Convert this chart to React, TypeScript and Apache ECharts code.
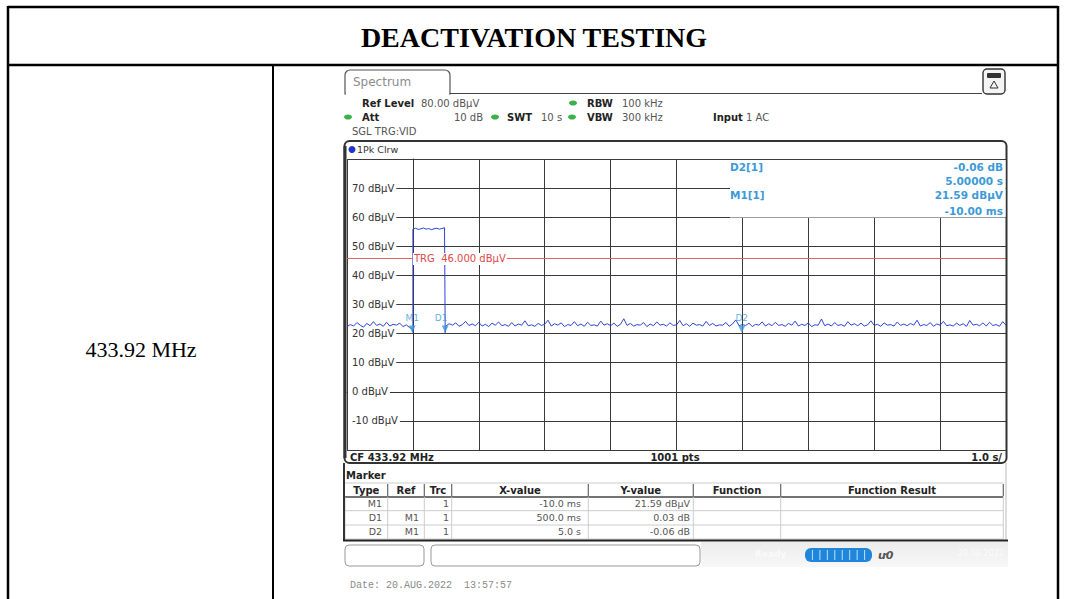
import React, { useEffect, useRef } from 'react';
import * as echarts from 'echarts';

// ---------- data ----------
const sweepStart = -1; // s
const sweepEnd = 9; // s
const sampleStep = 0.05; // s
const levelMin = -20;
const levelMax = 80;
const levelStep = 10;
const trigLevel = 46;

const noiseBefore = [22.4, 23.1, 22.6, 23.8, 22.9, 22.2, 23.5, 22.7, 24.1, 22.8, 23.3, 22.5, 23.9, 22.6, 23.2, 22.9, 23.6, 22.4, 23.0, 22.1];
const pulseTimes = [0, 0.04, 0.08, 0.12, 0.16, 0.2, 0.24, 0.28, 0.32, 0.36, 0.4, 0.44, 0.48];
const pulseLevels = [55.9, 56.2, 55.8, 56.0, 56.3, 55.9, 56.1, 55.7, 56.0, 56.2, 55.9, 56.1, 56.4];
const edgeTimes = [0, 0.49];
const edgeLows = [20.4, 20.3];
const afterStart = 0.5;
const noiseAfter = [
  22.6, 23.4, 22.9, 23.7, 22.5, 23.1, 24.2, 22.8, 23.3, 22.7, 23.9, 22.6, 23.2, 22.4, 23.6, 22.9, 24.0, 22.7, 23.1, 22.5,
  23.8, 22.6, 23.3, 22.9, 24.4, 22.7, 23.0, 22.5, 23.5, 22.8, 23.2, 24.6, 22.6, 23.4, 22.9, 23.7, 22.4, 23.1, 22.8, 24.1,
  22.7, 23.3, 22.5, 23.9, 22.8, 23.0, 22.6, 24.3, 22.9, 23.4, 22.7, 23.6, 22.5, 23.2, 25.1, 22.8, 23.5, 22.6, 23.1, 22.9,
  23.8, 22.4, 23.3, 22.7, 24.0, 22.9, 23.2, 22.6, 23.7, 22.8, 23.0, 24.5, 22.7, 23.4, 22.5, 23.6, 22.9, 23.1, 22.6, 24.2,
  22.8, 23.5, 22.6, 23.0, 22.9, 23.8, 22.5, 23.3, 24.7, 22.7, 23.1, 22.8, 23.6, 22.4, 23.2, 22.9, 24.0, 22.6, 23.4, 22.7,
  23.9, 22.8, 23.1, 22.5, 23.5, 22.9, 24.3, 22.6, 23.2, 22.8, 23.7, 22.4, 23.0, 22.9, 25.0, 22.7, 23.3, 22.6, 23.8, 22.8,
  23.1, 22.5, 24.1, 22.9, 23.4, 22.7, 23.6, 22.6, 23.0, 24.4, 22.8, 23.2, 22.5, 23.7, 22.9, 23.1, 22.6, 24.0, 22.8, 23.3,
  22.7, 23.5, 22.9, 24.6, 22.6, 23.1, 22.8, 23.8, 22.5, 23.3, 22.9, 24.2, 22.7, 23.0, 22.6, 23.6, 22.8, 23.4, 22.5, 24.5,
  22.9, 23.2, 22.7, 23.7, 22.6, 23.9, 22.8, 23.1, 22.5, 24.1, 22.9,
];

const markerNames = ['M1', 'D1', 'D2'];
const markerTimes = [-0.01, 0.49, 4.99];
const markerLevels = [21.59, 21.62, 21.53];

const tableType = ['M1', 'D1', 'D2'];
const tableRef = ['', 'M1', 'M1'];
const tableTrc = ['1', '1', '1'];
const tableX = ['-10.0 ms', '500.0 ms', '5.0 s'];
const tableY = ['21.59 dBµV', '0.03 dB', '-0.06 dB'];
const tableHead = ['Type', 'Ref', 'Trc', 'X-value', 'Y-value', 'Function', 'Function Result'];

// ---------- helpers ----------
const SANS = '"DejaVu Sans", Verdana, sans-serif';
const T = (x: number, y: number, text: string, o: any = {}) => ({
  type: 'text',
  x,
  y,
  z: o.z ?? 20,
  style: {
    text,
    fill: o.color ?? '#333',
    font: `${o.italic ? 'italic ' : ''}${o.bold ? 'bold ' : ''}${o.size ?? 10}px ${o.family ?? SANS}`,
    textAlign: o.align ?? 'left',
    textVerticalAlign: 'middle',
  },
});
const L = (x1: number, y1: number, x2: number, y2: number, color = '#333', w = 1, z = 15) => ({
  type: 'line',
  z,
  shape: { x1, y1, x2, y2 },
  style: { stroke: color, lineWidth: w },
});
const R = (x: number, y: number, w: number, h: number, style: any, r: any = 0, z = 10) => ({
  type: 'rect',
  z,
  shape: { x, y, width: w, height: h, r },
  style,
});

export default function App() {
  const ref = useRef<HTMLDivElement>(null);
  useEffect(() => {
    if (!ref.current) return;
    const chart = echarts.init(ref.current, null, { renderer: 'svg' });

    const trace: number[][] = [];
    noiseBefore.forEach((v, i) => trace.push([sweepStart + i * sampleStep, v]));
    trace.push([markerTimes[0], markerLevels[0]]);
    trace.push([edgeTimes[0], edgeLows[0]]);
    pulseLevels.forEach((v, i) => trace.push([pulseTimes[i], v]));
    trace.push([edgeTimes[1], pulseLevels[pulseLevels.length - 1]]);
    trace.push([edgeTimes[1], edgeLows[1]]);
    noiseAfter.forEach((v, i) => trace.push([afterStart + i * sampleStep, v]));

    const blue = '#3c9ad8';
    const g: any[] = [];
    // outer table
    g.push(L(8, 7, 1058, 7, '#000', 2.5, 1));
    g.push(L(8, 6, 8, 599, '#000', 2.5, 1));
    g.push(L(1058, 6, 1058, 599, '#000', 2.5, 1));
    g.push(L(8, 65, 1058, 65, '#000', 2.5, 1));
    g.push(L(273, 65, 273, 599, '#000', 2, 1));
    g.push(T(534, 37, 'DEACTIVATION TESTING', { bold: true, size: 28, color: '#000', align: 'center', family: '"Liberation Serif", "Times New Roman", serif' }));
    g.push(T(141, 349, '433.92 MHz', { size: 22, color: '#000', align: 'center', family: '"Liberation Serif", "Times New Roman", serif' }));

    // tab + header
    g.push(R(345, 70, 105, 24, { fill: '#fff', stroke: '#555', lineWidth: 1.2 }, [5, 5, 0, 0], 5));
    g.push(L(346, 94, 449, 94, '#fff', 2, 6));
    g.push(L(450, 93.5, 982, 93.5, '#444', 1.2, 6));
    g.push(R(983, 69, 22, 25, { fill: '#f4f4f4', stroke: '#333', lineWidth: 1.4 }, 4, 6));
    g.push(R(987, 73, 14, 5, { fill: '#333' }, 1, 7));
    g.push({ type: 'polygon', z: 7, shape: { points: [[994, 81], [990, 88], [998, 88]] }, style: { fill: 'none', stroke: '#333', lineWidth: 1 } });
    g.push(T(353, 82, 'Spectrum', { size: 12, color: '#8c8c8c' }));

    const green = '#3cb04a';
    const dot = (x: number, y: number) => ({ type: 'ellipse', z: 20, shape: { cx: x, cy: y, rx: 4, ry: 2.6 }, style: { fill: green } });
    g.push(T(362, 103, 'Ref Level', { bold: true, color: '#222' }));
    g.push(T(421, 103, '80.00 dBµV', { color: '#555' }));
    g.push(dot(573, 103));
    g.push(T(587, 103, 'RBW', { bold: true, color: '#222' }));
    g.push(T(622, 103, '100 kHz', { color: '#555' }));
    g.push(dot(348, 117));
    g.push(T(362, 117, 'Att', { bold: true, color: '#222' }));
    g.push(T(483, 117, '10 dB', { color: '#555', align: 'right' }));
    g.push(dot(495, 117));
    g.push(T(507, 117, 'SWT', { bold: true, color: '#222' }));
    g.push(T(541, 117, '10 s', { color: '#555' }));
    g.push(dot(572, 117));
    g.push(T(587, 117, 'VBW', { bold: true, color: '#222' }));
    g.push(T(622, 117, '300 kHz', { color: '#555' }));
    g.push(T(713, 117, 'Input', { bold: true, color: '#222' }));
    g.push(T(746, 117, '1 AC', { color: '#555' }));
    g.push(T(352, 131, 'SGL TRG:VID', { color: '#555' }));

    // trace box
    g.push(R(344.5, 141, 662, 322, { fill: 'none', stroke: '#333', lineWidth: 2 }, 5, 16));
    g.push(L(345, 146, 345, 458, '#333', 3, 16));
    g.push({ type: 'circle', z: 20, shape: { cx: 352, cy: 149.5, r: 3.5 }, style: { fill: '#2233cc' } });
    g.push(T(357, 149.5, '1Pk Clrw', { size: 9.5, color: '#333' }));
    g.push(T(350, 457, 'CF 433.92 MHz', { bold: true, color: '#222' }));
    g.push(T(675, 457, '1001 pts', { bold: true, color: '#222', align: 'center' }));
    g.push(T(1002, 457, '1.0 s/', { bold: true, color: '#222', align: 'right' }));

    // marker info box
    g.push(R(730, 160, 275.5, 57.5, { fill: '#fff' }, 0, 30));
    g.push(T(730, 167, 'D2[1]', { bold: true, size: 10.5, color: blue, z: 31 }));
    g.push(T(1003, 167, '-0.06 dB', { bold: true, size: 10.5, color: blue, align: 'right', z: 31 }));
    g.push(T(1003, 181, '5.00000 s', { bold: true, size: 10.5, color: blue, align: 'right', z: 31 }));
    g.push(T(730, 195, 'M1[1]', { bold: true, size: 10.5, color: blue, z: 31 }));
    g.push(T(1003, 195, '21.59 dBµV', { bold: true, size: 10.5, color: blue, align: 'right', z: 31 }));
    g.push(T(1003, 210.5, '-10.00 ms', { bold: true, size: 10.5, color: blue, align: 'right', z: 31 }));

    // marker table panel
    g.push(L(344, 463, 344, 540, '#333', 2, 16));
    g.push(L(1006, 463, 1006, 540, '#bbb', 1, 16));
    g.push(L(343, 540.5, 1008, 540.5, '#222', 2, 16));
    g.push(T(346, 475, 'Marker', { bold: true, color: '#222' }));
    const cols = [345, 387.7, 424.3, 451.7, 588.3, 693.3, 780.7, 1003.3];
    g.push(L(345, 483, 1003.3, 483, '#ccc', 1));
    g.push(L(345, 497, 1003.3, 497, '#444', 1.5));
    [510.7, 525, 539].forEach((y) => g.push(L(345, y, 1003.3, y, '#ccc', 1)));
    cols.forEach((x, i) => {
      if (i > 0) g.push(L(x, 484, x, 496, '#666', 1.2));
      g.push(L(x, 497, x, 539, '#ccc', 1));
    });
    tableHead.forEach((h, i) => g.push(T((cols[i] + cols[i + 1]) / 2, 490, h, { bold: true, color: '#222', align: 'center' })));
    const rowY = [503.8, 517.8, 531.8];
    tableType.forEach((v, i) => {
      g.push(T(382, rowY[i], v, { size: 9.5, color: '#555', align: 'right' }));
      g.push(T(419, rowY[i], tableRef[i], { size: 9.5, color: '#555', align: 'right' }));
      g.push(T(449, rowY[i], tableTrc[i], { size: 9.5, color: '#555', align: 'right' }));
      g.push(T(581, rowY[i], tableX[i], { size: 9.5, color: '#555', align: 'right' }));
      g.push(T(690, rowY[i], tableY[i], { size: 9.5, color: '#555', align: 'right' }));
    });

    // bottom bar
    g.push(R(345, 545, 79, 21, { fill: '#fff', stroke: '#999', lineWidth: 1 }, 4));
    g.push(R(431, 545, 269, 21, { fill: '#fff', stroke: '#999', lineWidth: 1 }, 4));
    g.push(R(701, 542, 307, 25, { fill: { type: 'linear', x: 0, y: 0, x2: 0, y2: 1, colorStops: [{ offset: 0, color: '#ececec' }, { offset: 1, color: '#f8f8f8' }] } }, 0, 9));
    g.push(T(755, 554, 'Ready', { bold: true, size: 9, color: '#fafafa' }));
    g.push(R(805, 548, 67, 14, { fill: '#1f86dc' }, 6, 11));
    for (let k = 1; k < 9; k++) g.push(L(805 + k * 7.45, 550, 805 + k * 7.45, 560, '#bfe0fa', 1, 12));
    g.push(T(878, 555, 'ư0', { bold: true, italic: true, size: 11, color: '#555' }));
    g.push(T(958, 553, '20.08.2022', { size: 8, color: '#fbfbfb' }));

    g.push(T(350, 585, 'Date: 20.AUG.2022  13:57:57', { size: 10, color: '#8a8a8a', family: '"Liberation Mono", "Courier New", monospace' }));

    chart.setOption({
      animation: false,
      backgroundColor: '#fff',
      grid: { left: 347, top: 159, width: 659, height: 291, containLabel: false },
      xAxis: {
        type: 'value',
        min: sweepStart,
        max: sweepEnd,
        interval: 1,
        axisLine: { show: true, lineStyle: { color: '#333', width: 1 } },
        axisTick: { show: false },
        axisLabel: { show: false },
        splitLine: { show: true, lineStyle: { color: '#3a3a3a', width: 1 } },
      },
      yAxis: {
        type: 'value',
        min: levelMin,
        max: levelMax,
        interval: levelStep,
        axisLine: { show: true, lineStyle: { color: '#333', width: 1 } },
        axisTick: { show: false },
        splitLine: { show: true, lineStyle: { color: '#3a3a3a', width: 1 } },
        axisLabel: {
          inside: true,
          margin: 1,
          showMinLabel: false,
          showMaxLabel: false,
          formatter: '{value} dBµV',
          color: '#333',
          fontSize: 10,
          fontFamily: SANS,
          backgroundColor: '#fff',
          padding: [1, 2, 1, 4],
        },
      },
      series: [
        {
          type: 'line',
          data: trace,
          showSymbol: false,
          symbol: 'none',
          z: 3,
          lineStyle: { color: '#2f43d6', width: 1 },
          markLine: {
            silent: true,
            symbol: ['none', 'none'],
            lineStyle: { color: '#e86262', width: 1, type: 'solid' },
            label: {
              show: true,
              position: 'insideStartTop',
              distance: 0,
              offset: [66, 7],
              formatter: 'TRG  46.000 dBµV',
              color: '#e04848',
              fontSize: 10,
              fontFamily: SANS,
              backgroundColor: '#fff',
              padding: [1, 1, 1, 1],
            },
            data: [{ yAxis: trigLevel }],
          },
        },
        {
          type: 'scatter',
          z: 5,
          symbol: 'triangle',
          symbolSize: 7,
          symbolRotate: 180,
          itemStyle: { color: blue },
          data: markerNames.map((n, i) => ({
            value: [markerTimes[i], markerLevels[i]],
            name: n,
            label: {
              show: true,
              formatter: n,
              position: 'top',
              distance: 3,
              offset: i === 1 ? [-4, 0] : [0, 0],
              color: blue,
              fontSize: 9,
              fontFamily: SANS,
            },
          })),
        },
      ],
      graphic: { elements: g },
    });
    return () => chart.dispose();
  }, []);
  return <div ref={ref} style={{ position: 'absolute', left: 0, top: 0, width: 1068, height: 599 }} />;
}
